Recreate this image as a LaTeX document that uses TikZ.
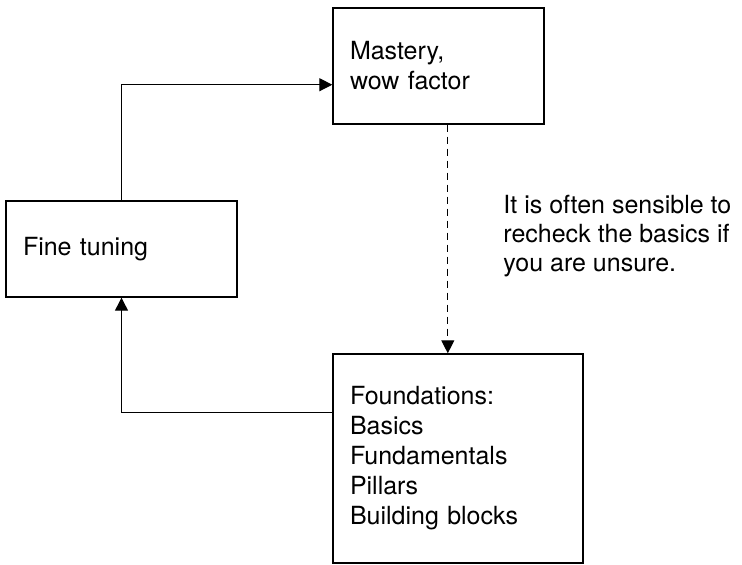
\documentclass[tikz,border=0pt]{standalone}
\usepackage{fontspec}
\setmainfont{TeX Gyre Heros}
\usetikzlibrary{arrows.meta}
\tikzset{
  box/.style={draw=black, line width=0.7pt, align=left, inner xsep=8.5pt, inner ysep=2pt,
    font=\fontsize{12.5pt}{15pt}\selectfont},
  link/.style={line width=0.6pt, -{Triangle[length=6.5pt,width=6.5pt]}},
}

\begin{document}
\begin{tikzpicture}[x=0.5pt,y=-0.5pt]
  %# MARGINS
  \useasboundingbox (0,0) rectangle (742,565);

  %# BOXES
  \node[box, text width=88.5pt, minimum height=58pt] (mastery) at (438.5,66) {Mastery,\\wow factor};
  \node[box, text width=98.5pt, minimum height=48pt] (fine) at (121.5,249) {Fine tuning};
  \node[box, text width=108pt, minimum height=104.5pt] (found) at (458,458.5)
    {Foundations:\\Basics\\Fundamentals\\Pillars\\Building blocks};

  %# NOTE
  \node[anchor=base west, inner sep=0pt, align=left, font=\fontsize{12.5pt}{14.5pt}\selectfont] (note) at (503,272)
    {It is often sensible to\\recheck the basics if\\you are unsure.};

  %# ARROWS
  \draw[link] (fine.north) |- (mastery.190);
  \draw[link] (found.160) -| (fine.south);
  \draw[link, dash pattern=on 3.5pt off 2.5pt] (mastery.-81) -- (mastery.-81 |- found.north);
\end{tikzpicture}
\end{document}
